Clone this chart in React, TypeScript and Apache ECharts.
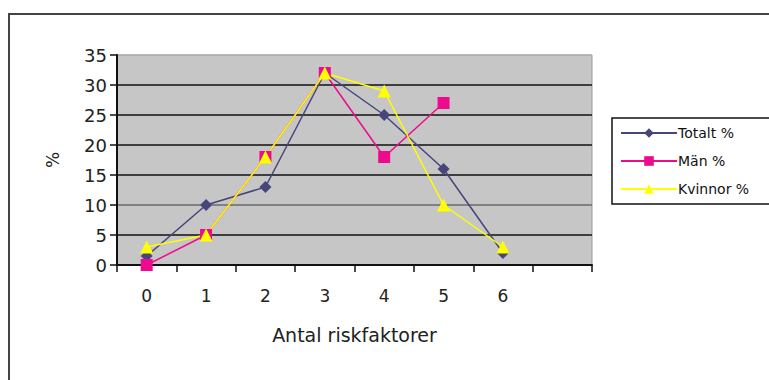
import React, { useEffect, useRef } from "react";
import * as echarts from "echarts";

// Number of risk factors (last slot is an empty category)
const categories = ["0", "1", "2", "3", "4", "5", "6", ""];
const totalt = [1.5, 10, 13, 32, 25, 16, 2, null];
const man = [0, 5, 18, 32, 18, 27, null, null];
const kvinnor = [3, 5, 18, 32, 29, 10, 3, null];
const seriesNames = ["Totalt %", "Män %", "Kvinnor %"];
const yTicks = { min: 0, max: 35, interval: 5 };

const FONT = "Liberation Sans";
const WIDE = "DejaVu Sans";

export default function App() {
  const ref = useRef<HTMLDivElement>(null);

  useEffect(() => {
    if (!ref.current) return;
    const chart = echarts.init(ref.current, undefined, { renderer: "svg" });
    chart.setOption({
      animation: false,
      backgroundColor: "#ffffff",
      textStyle: { fontFamily: FONT },
      graphic: [
        {
          type: "rect",
          shape: { x: 9, y: 14, width: 900, height: 500 },
          style: { fill: "none", stroke: "#444", lineWidth: 2 },
          silent: true,
        },
      ],
      grid: {
        left: 117,
        top: 55,
        width: 475,
        height: 210,
        show: true,
        backgroundColor: "#c6c6c6",
        borderColor: "#9a9a9a",
        borderWidth: 1,
      },
      legend: {
        orient: "vertical",
        left: 612,
        top: 118,
        padding: [8, 26, 8, 8],
        borderColor: "#111",
        borderWidth: 1.5,
        backgroundColor: "#fff",
        itemWidth: 56,
        itemHeight: 12,
        itemGap: 14,
        textStyle: { fontSize: 14, color: "#111", fontFamily: WIDE, padding: [0, 0, 0, -4] },
        data: seriesNames,
      },
      xAxis: {
        type: "category",
        data: categories,
        boundaryGap: true,
        name: "Antal riskfaktorer",
        nameLocation: "middle",
        nameGap: 60,
        nameTextStyle: { fontSize: 19, color: "#222", fontFamily: WIDE },
        axisLine: { lineStyle: { color: "#111", width: 2 } },
        axisTick: { show: true, inside: false, length: 7, lineStyle: { color: "#111", width: 1.5 } },
        axisLabel: { fontSize: 17, color: "#222", margin: 22, fontFamily: WIDE },
        splitLine: { show: false },
      },
      yAxis: {
        type: "value",
        min: yTicks.min,
        max: yTicks.max,
        interval: yTicks.interval,
        name: "%",
        nameLocation: "middle",
        nameGap: 56,
        nameRotate: 90,
        nameTextStyle: { fontSize: 17, color: "#222", fontFamily: WIDE },
        axisLine: { show: true, lineStyle: { color: "#111", width: 2 } },
        axisTick: { show: true, inside: false, length: 7, lineStyle: { color: "#111", width: 1.5 } },
        axisLabel: { fontSize: 18, color: "#222", margin: 10, fontFamily: WIDE },
        splitLine: {
          show: true,
          lineStyle: {
            color: ["#111", "#111", "#6a6a6a", "#111", "#111", "#111", "#111", "#b0b0b0"],
            width: 1.6,
          },
        },
      },
      series: [
        {
          name: seriesNames[0],
          type: "line",
          data: totalt,
          symbol: "diamond",
          symbolSize: 12,
          itemStyle: { color: "#46467a" },
          lineStyle: { color: "#46467a", width: 1.5 },
        },
        {
          name: seriesNames[1],
          type: "line",
          data: man,
          symbol: "rect",
          symbolSize: 12,
          itemStyle: { color: "#ee0a8c" },
          lineStyle: { color: "#ee0a8c", width: 1.5 },
        },
        {
          name: seriesNames[2],
          type: "line",
          data: kvinnor,
          symbol: "triangle",
          symbolSize: 13,
          itemStyle: { color: "#ffff00" },
          lineStyle: { color: "#ffff00", width: 1.5 },
        },
      ],
    });
    return () => chart.dispose();
  }, []);

  return (
    <div
      ref={ref}
      style={{ position: "absolute", left: 0, top: 0, width: 769, height: 380 }}
    />
  );
}
